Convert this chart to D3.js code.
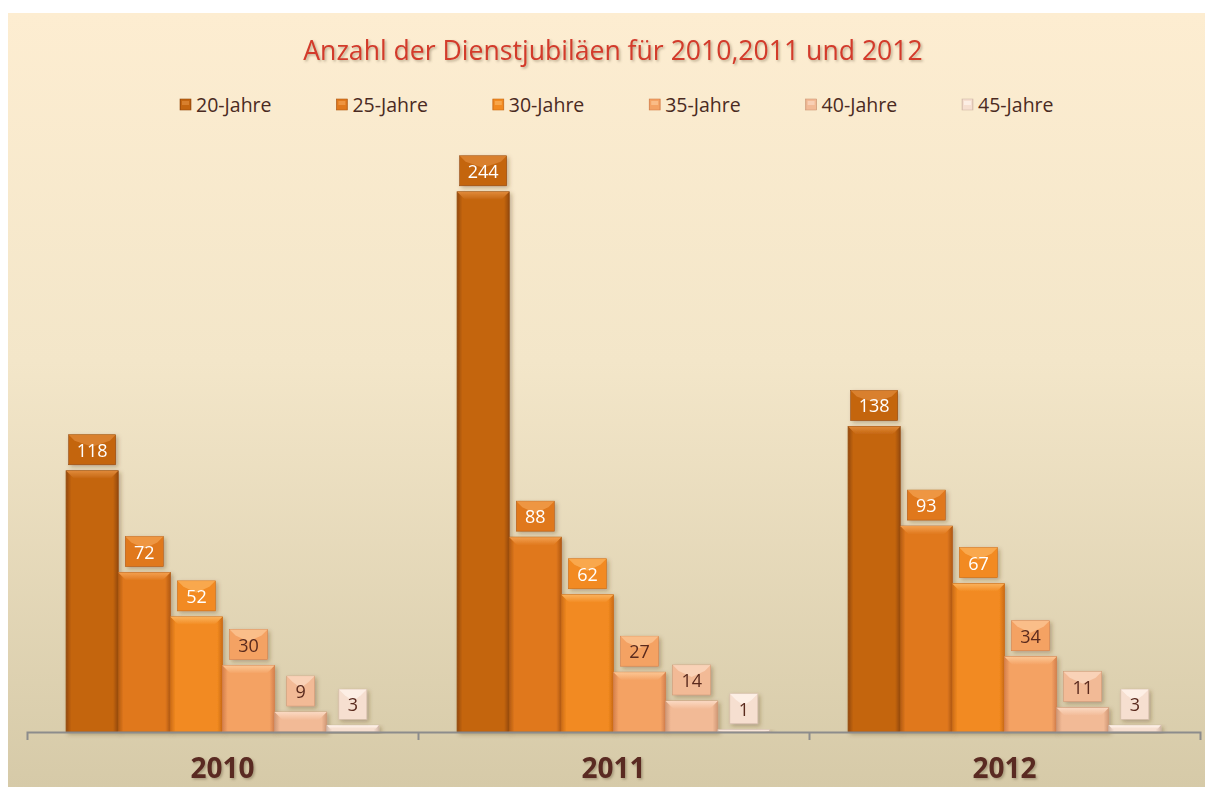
<!DOCTYPE html>
<html>
<head>
<meta charset="utf-8">
<script src="https://cdn.jsdelivr.net/npm/d3@7"></script>
<style>
  html, body { margin: 0; padding: 0; background: #ffffff; }
  svg { display: block; }
</style>
</head>
<body>
<svg id="chart" width="1205" height="787"></svg>
<script>
// Dienstjubiläen per year, one array per jubilee group
const categories = ["2010", "2011", "2012"];
const seriesNames = ["20-Jahre", "25-Jahre", "30-Jahre", "35-Jahre", "40-Jahre", "45-Jahre"];
const jahre20 = [118, 244, 138];
const jahre25 = [72, 88, 93];
const jahre30 = [52, 62, 67];
const jahre35 = [30, 27, 34];
const jahre40 = [9, 14, 11];
const jahre45 = [3, 1, 3];
const seriesValues = [jahre20, jahre25, jahre30, jahre35, jahre40, jahre45];
const titleText = "Anzahl der Dienstjubiläen für 2010,2011 und 2012";

// palette per series: base, dark edge, light bevel, label text
const palette = [
  { base: "#c4650f", edge: "#94490e", light: "#e08a3a", text: "#ffffff" },
  { base: "#e0781c", edge: "#b25a14", light: "#f3a050", text: "#ffffff" },
  { base: "#f28a20", edge: "#cc6c16", light: "#fbb25c", text: "#ffffff" },
  { base: "#f4a264", edge: "#d5804c", light: "#fcc795", text: "#5a2a1e" },
  { base: "#f2ba96", edge: "#d09876", light: "#fbd9c2", text: "#5a2a1e" },
  { base: "#f6dfd0", edge: "#d2b8a8", light: "#fff4ec", text: "#5a2a1e" }
];

const svg = d3.select("#chart");
const W = 1205, H = 787;
const defs = svg.append("defs");

// background panel gradient
const bg = defs.append("linearGradient").attr("id", "bgGrad")
  .attr("x1", 0).attr("y1", 0).attr("x2", 0).attr("y2", 1);
bg.append("stop").attr("offset", "0%").attr("stop-color", "#fdedd1");
bg.append("stop").attr("offset", "45%").attr("stop-color", "#f3e6c9");
bg.append("stop").attr("offset", "100%").attr("stop-color", "#d6caa8");

// drop shadow
const sh = defs.append("filter").attr("id", "shadow")
  .attr("x", "-20%").attr("y", "-20%").attr("width", "150%").attr("height", "150%");
sh.append("feDropShadow").attr("dx", 2).attr("dy", 2).attr("stdDeviation", 2)
  .attr("flood-color", "#5a3a20").attr("flood-opacity", 0.35);

const txtShadow = defs.append("filter").attr("id", "txtShadow")
  .attr("x", "-10%").attr("y", "-20%").attr("width", "130%").attr("height", "160%");
txtShadow.append("feDropShadow").attr("dx", 1.5).attr("dy", 1.5).attr("stdDeviation", 1.2)
  .attr("flood-color", "#6b5a40").attr("flood-opacity", 0.45);

palette.forEach((p, i) => {
  const g = defs.append("linearGradient").attr("id", "barGrad" + i)
    .attr("x1", 0).attr("y1", 0).attr("x2", 1).attr("y2", 0);
  g.append("stop").attr("offset", "0%").attr("stop-color", p.edge);
  g.append("stop").attr("offset", "10%").attr("stop-color", p.base);
  g.append("stop").attr("offset", "50%").attr("stop-color", p.base);
  g.append("stop").attr("offset", "90%").attr("stop-color", p.base);
  g.append("stop").attr("offset", "100%").attr("stop-color", p.edge);
  const b = defs.append("linearGradient").attr("id", "bevelGrad" + i)
    .attr("x1", 0).attr("y1", 0).attr("x2", 0).attr("y2", 1);
  b.append("stop").attr("offset", "0%").attr("stop-color", p.light);
  b.append("stop").attr("offset", "100%").attr("stop-color", p.base);
});

svg.append("rect").attr("x", 8).attr("y", 13).attr("width", W - 8).attr("height", H - 13)
  .attr("fill", "url(#bgGrad)");

// title
svg.append("text")
  .attr("x", 613).attr("y", 60)
  .attr("text-anchor", "middle")
  .attr("font-family", "'Open Sans', sans-serif")
  .attr("font-size", 26.6)
  .attr("fill", "#d33a2c")
  .attr("filter", "url(#txtShadow)")
  .text(titleText);

// scales
const baseY = 732;
const x0 = d3.scaleBand().domain(categories).range([27, 1200]).padding(0);
const x1 = d3.scaleBand().domain(seriesNames)
  .range([x0.bandwidth() * 0.1, x0.bandwidth() * 0.9]).padding(0);
const y = d3.scaleLinear().domain([0, 250]).range([baseY, baseY - 250 * 2.214]);

// legend
const legendX = d3.scalePoint().domain(seriesNames).range([180, 962]);
const legend = svg.append("g");
seriesNames.forEach((name, i) => {
  const lg = legend.append("g").attr("transform", `translate(${legendX(name)},99)`);
  lg.append("rect").attr("width", 11).attr("height", 11)
    .attr("fill", `url(#barGrad${i})`).attr("stroke", palette[i].edge).attr("stroke-width", 0.6);
  lg.append("rect").attr("x", 2).attr("y", 2).attr("width", 7).attr("height", 4)
    .attr("fill", palette[i].light).attr("opacity", 0.7);
  lg.append("text").attr("x", 16).attr("y", 12.5)
    .attr("font-family", "'Open Sans', sans-serif")
    .attr("font-size", 19.5)
    .attr("fill", "#4a2a22")
    .text(name);
});

// bars
const groups = svg.append("g").selectAll("g.cat")
  .data(categories).join("g").attr("class", "cat")
  .attr("transform", d => `translate(${x0(d)},0)`);

seriesNames.forEach((name, si) => {
  const bw = x1.bandwidth();
  groups.each(function(cat, ci) {
    const v = seriesValues[si][ci];
    const g = d3.select(this);
    const bx = x1(name);
    const top = y(v);
    const h = baseY - top;
    const bar = g.append("g").attr("filter", "url(#shadow)");
    bar.append("rect").attr("x", bx).attr("y", top).attr("width", bw).attr("height", h)
      .attr("fill", `url(#barGrad${si})`)
      .attr("stroke", palette[si].edge).attr("stroke-width", 0.8);
    const bev = Math.min(8, h / 2);
    bar.append("path")
      .attr("d", `M${bx},${top}L${bx + bw},${top}L${bx + bw - bev},${top + bev}L${bx + bev},${top + bev}Z`)
      .attr("fill", `url(#bevelGrad${si})`);

    // value label box
    const label = String(v);
    const boxW = label.length === 1 ? 28 : (label.length === 2 ? 38 : 47);
    const boxH = 30;
    const cx = bx + bw / 2;
    const by = top - 6 - boxH;
    const lb = g.append("g").attr("filter", "url(#shadow)");
    lb.append("rect").attr("x", cx - boxW / 2).attr("y", by).attr("width", boxW).attr("height", boxH)
      .attr("fill", palette[si].base).attr("stroke", palette[si].edge).attr("stroke-width", 0.6);
    lb.append("path")
      .attr("d", `M${cx - boxW / 2},${by}L${cx + boxW / 2},${by}L${cx + boxW / 2 - 6},${by + 6}L${cx},${by + 12}L${cx - boxW / 2 + 6},${by + 6}Z`)
      .attr("fill", palette[si].light).attr("opacity", 0.75);
    lb.append("text").attr("x", cx).attr("y", by + 22)
      .attr("text-anchor", "middle")
      .attr("font-family", "'Open Sans', sans-serif")
      .attr("font-size", 18)
      .attr("fill", palette[si].text)
      .text(label);
  });
});

// category axis
const axis = d3.axisBottom(x0).tickSize(0).tickSizeOuter(8).tickPadding(26);
const ax = svg.append("g").attr("transform", `translate(0,${baseY})`).call(axis);
ax.select(".domain").attr("stroke", "#8c8c8c").attr("stroke-width", 2);
ax.selectAll(".tick text")
  .attr("font-family", "'Open Sans', sans-serif")
  .attr("font-weight", "bold")
  .attr("font-size", 28)
  .attr("fill", "#5a2a22")
  .attr("filter", "url(#txtShadow)");
// boundary ticks between categories
ax.selectAll("line.sep").data(categories.slice(1)).join("line").attr("class", "sep")
  .attr("x1", d => x0(d) + 0.5).attr("x2", d => x0(d) + 0.5)
  .attr("y1", 0).attr("y2", 8)
  .attr("stroke", "#8c8c8c").attr("stroke-width", 2);
</script>
</body>
</html>
